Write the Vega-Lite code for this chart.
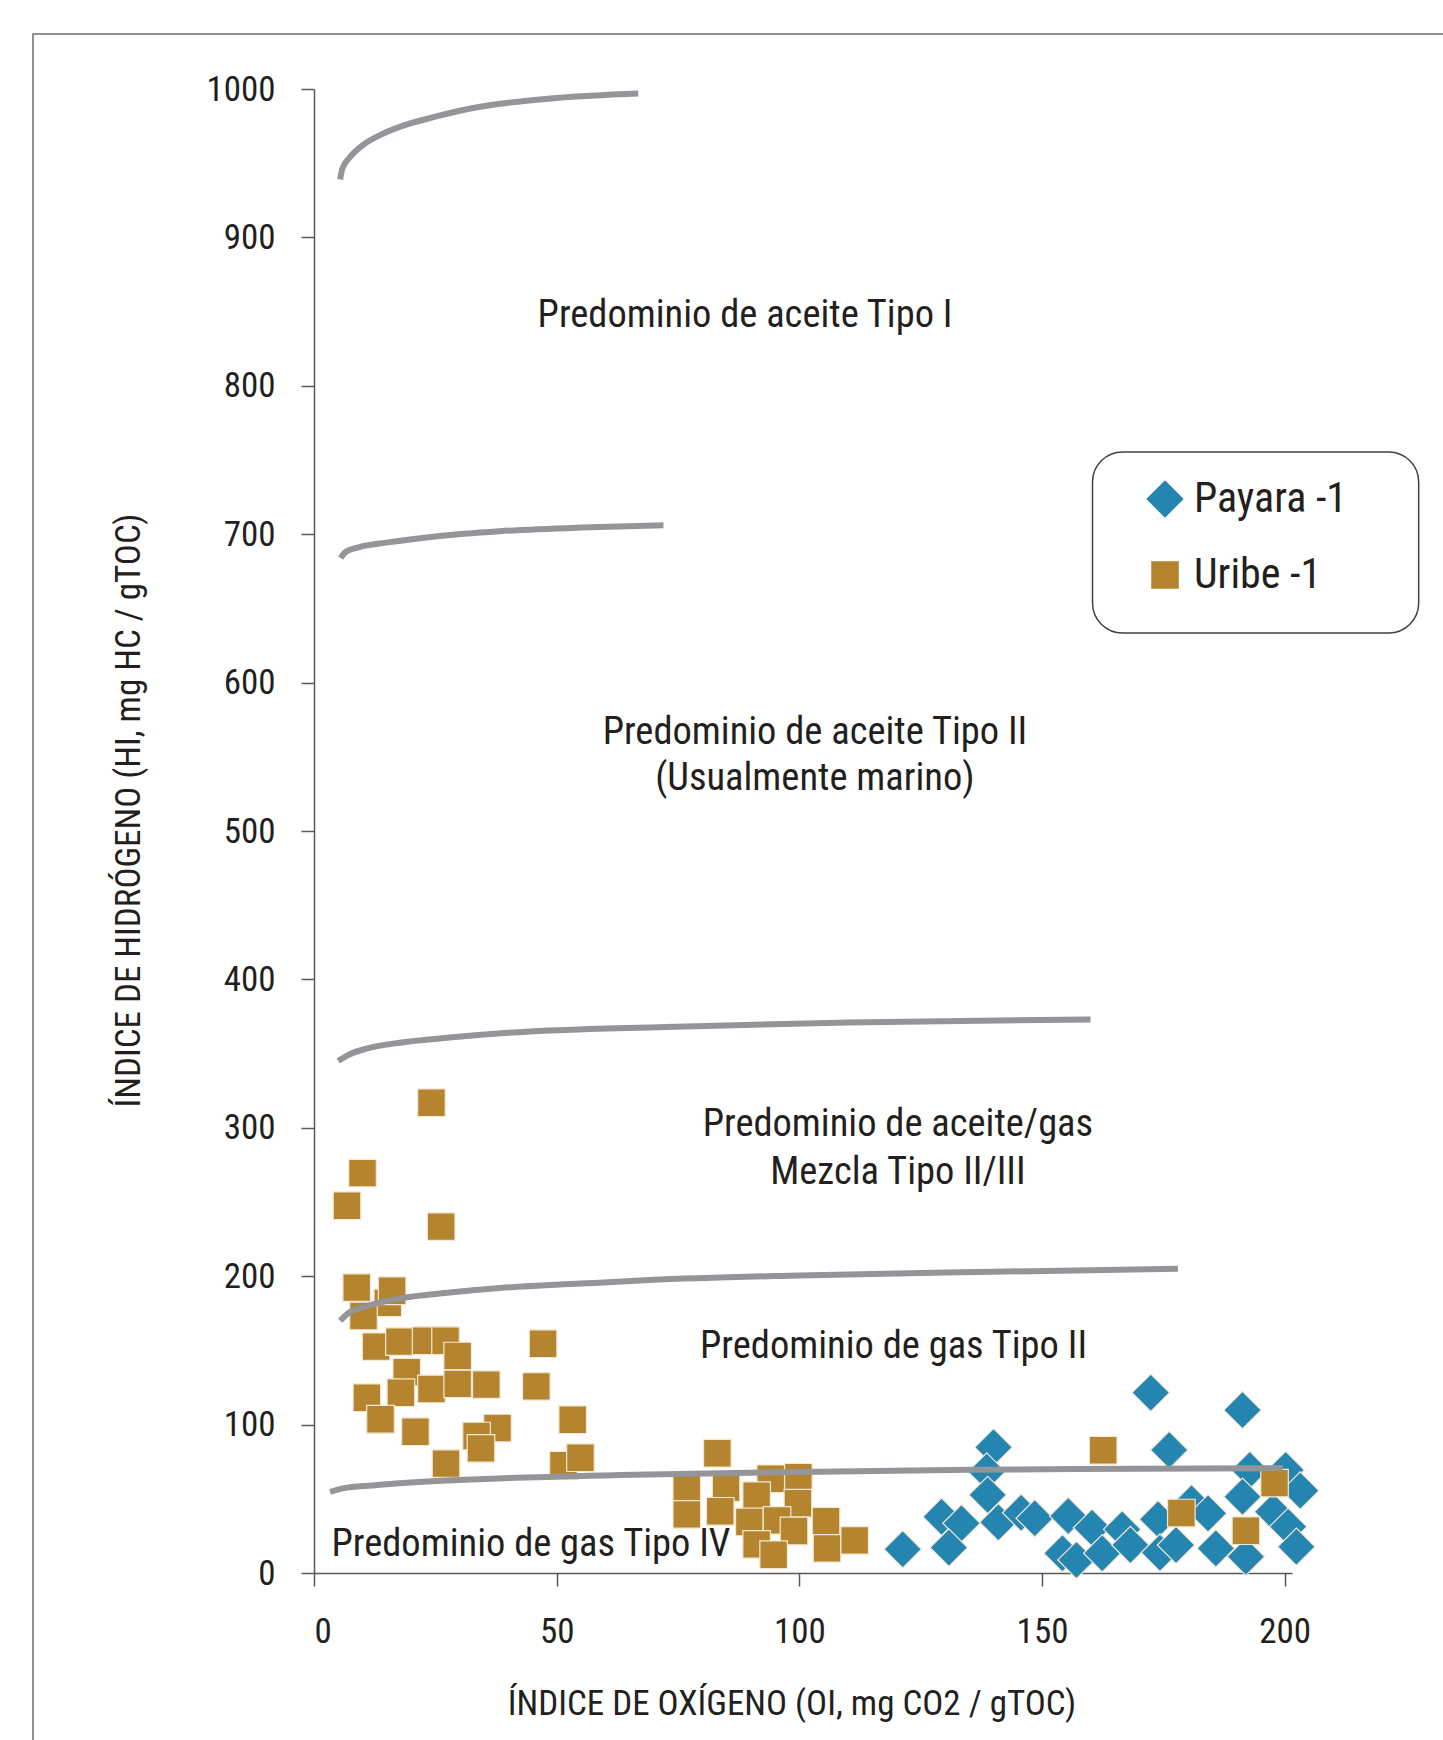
{
  "$schema": "https://vega.github.io/schema/vega-lite/v6.json",
  "autosize": "none",
  "width": 978,
  "height": 1484,
  "padding": {"left": 314, "top": 89, "right": 151, "bottom": 167},
  "background": "white",
  "config": {
    "view": {"stroke": null},
    "font": "Roboto Condensed, Liberation Sans Narrow, Roboto, sans-serif"
  },
  "datasets": {
    "marco": [{"x": -57.9, "x2": 260, "y": 1037.1, "y2": -200}],
    "caja": [{"x": 160.4, "x2": 227.6, "y": 755.4, "y2": 633.4}],
    "puntos": [
      {"oi": 121.3, "hi": 16, "pozo": "Payara -1"},
      {"oi": 129.3, "hi": 37.9, "pozo": "Payara -1"},
      {"oi": 133.4, "hi": 33.5, "pozo": "Payara -1"},
      {"oi": 130.8, "hi": 17.1, "pozo": "Payara -1"},
      {"oi": 140, "hi": 84.7, "pozo": "Payara -1"},
      {"oi": 138.6, "hi": 68.3, "pozo": "Payara -1"},
      {"oi": 138.8, "hi": 52.6, "pozo": "Payara -1"},
      {"oi": 141, "hi": 34.2, "pozo": "Payara -1"},
      {"oi": 145.7, "hi": 40.6, "pozo": "Payara -1"},
      {"oi": 148.5, "hi": 36.9, "pozo": "Payara -1"},
      {"oi": 155.4, "hi": 38.4, "pozo": "Payara -1"},
      {"oi": 154.2, "hi": 13.3, "pozo": "Payara -1"},
      {"oi": 157.1, "hi": 8.8, "pozo": "Payara -1"},
      {"oi": 160.3, "hi": 30.5, "pozo": "Payara -1"},
      {"oi": 162.4, "hi": 13.3, "pozo": "Payara -1"},
      {"oi": 166.5, "hi": 29.4, "pozo": "Payara -1"},
      {"oi": 168.2, "hi": 18.9, "pozo": "Payara -1"},
      {"oi": 172.4, "hi": 121.5, "pozo": "Payara -1"},
      {"oi": 176.2, "hi": 82.9, "pozo": "Payara -1"},
      {"oi": 173.9, "hi": 36.2, "pozo": "Payara -1"},
      {"oi": 174.3, "hi": 13.7, "pozo": "Payara -1"},
      {"oi": 177.6, "hi": 18.9, "pozo": "Payara -1"},
      {"oi": 180.8, "hi": 47, "pozo": "Payara -1"},
      {"oi": 184.2, "hi": 40.2, "pozo": "Payara -1"},
      {"oi": 185.8, "hi": 16.6, "pozo": "Payara -1"},
      {"oi": 191.3, "hi": 109.8, "pozo": "Payara -1"},
      {"oi": 192.8, "hi": 69.4, "pozo": "Payara -1"},
      {"oi": 191.3, "hi": 51.4, "pozo": "Payara -1"},
      {"oi": 192, "hi": 11, "pozo": "Payara -1"},
      {"oi": 200.2, "hi": 69.4, "pozo": "Payara -1"},
      {"oi": 203.2, "hi": 55.5, "pozo": "Payara -1"},
      {"oi": 197.6, "hi": 41.3, "pozo": "Payara -1"},
      {"oi": 200.7, "hi": 31.2, "pozo": "Payara -1"},
      {"oi": 202.4, "hi": 17.7, "pozo": "Payara -1"},
      {"oi": 24.2, "hi": 316.9, "pozo": "Uribe -1"},
      {"oi": 10, "hi": 269.5, "pozo": "Uribe -1"},
      {"oi": 6.8, "hi": 247.5, "pozo": "Uribe -1"},
      {"oi": 26.2, "hi": 233.4, "pozo": "Uribe -1"},
      {"oi": 8.8, "hi": 192.3, "pozo": "Uribe -1"},
      {"oi": 15.2, "hi": 182, "pozo": "Uribe -1"},
      {"oi": 16.1, "hi": 190.2, "pozo": "Uribe -1"},
      {"oi": 10.2, "hi": 173.2, "pozo": "Uribe -1"},
      {"oi": 12.8, "hi": 152.5, "pozo": "Uribe -1"},
      {"oi": 17.6, "hi": 155.9, "pozo": "Uribe -1"},
      {"oi": 23.1, "hi": 156.5, "pozo": "Uribe -1"},
      {"oi": 27.1, "hi": 156.5, "pozo": "Uribe -1"},
      {"oi": 29.6, "hi": 146.2, "pozo": "Uribe -1"},
      {"oi": 19.1, "hi": 135.4, "pozo": "Uribe -1"},
      {"oi": 17.9, "hi": 121.5, "pozo": "Uribe -1"},
      {"oi": 24.2, "hi": 124, "pozo": "Uribe -1"},
      {"oi": 29.6, "hi": 127.4, "pozo": "Uribe -1"},
      {"oi": 35.5, "hi": 126.9, "pozo": "Uribe -1"},
      {"oi": 47.2, "hi": 154.5, "pozo": "Uribe -1"},
      {"oi": 45.8, "hi": 125.8, "pozo": "Uribe -1"},
      {"oi": 10.9, "hi": 118.1, "pozo": "Uribe -1"},
      {"oi": 13.7, "hi": 103.6, "pozo": "Uribe -1"},
      {"oi": 20.9, "hi": 95.2, "pozo": "Uribe -1"},
      {"oi": 37.8, "hi": 97.7, "pozo": "Uribe -1"},
      {"oi": 33.5, "hi": 92.3, "pozo": "Uribe -1"},
      {"oi": 34.4, "hi": 84, "pozo": "Uribe -1"},
      {"oi": 53.3, "hi": 103.3, "pozo": "Uribe -1"},
      {"oi": 27.2, "hi": 73.7, "pozo": "Uribe -1"},
      {"oi": 51.4, "hi": 72.6, "pozo": "Uribe -1"},
      {"oi": 54.9, "hi": 77.7, "pozo": "Uribe -1"},
      {"oi": 83.1, "hi": 80.7, "pozo": "Uribe -1"},
      {"oi": 76.8, "hi": 56.8, "pozo": "Uribe -1"},
      {"oi": 76.8, "hi": 39.5, "pozo": "Uribe -1"},
      {"oi": 84.9, "hi": 57.5, "pozo": "Uribe -1"},
      {"oi": 83.7, "hi": 41.6, "pozo": "Uribe -1"},
      {"oi": 94.1, "hi": 63.5, "pozo": "Uribe -1"},
      {"oi": 99.8, "hi": 64.5, "pozo": "Uribe -1"},
      {"oi": 91.2, "hi": 52.1, "pozo": "Uribe -1"},
      {"oi": 99.7, "hi": 47, "pozo": "Uribe -1"},
      {"oi": 89.7, "hi": 34.4, "pozo": "Uribe -1"},
      {"oi": 95.4, "hi": 35.5, "pozo": "Uribe -1"},
      {"oi": 98.9, "hi": 28.3, "pozo": "Uribe -1"},
      {"oi": 91.2, "hi": 19.3, "pozo": "Uribe -1"},
      {"oi": 94.7, "hi": 12.3, "pozo": "Uribe -1"},
      {"oi": 105.5, "hi": 35, "pozo": "Uribe -1"},
      {"oi": 105.7, "hi": 16.6, "pozo": "Uribe -1"},
      {"oi": 111.4, "hi": 22, "pozo": "Uribe -1"},
      {"oi": 162.6, "hi": 82.7, "pozo": "Uribe -1"},
      {"oi": 178.7, "hi": 40.4, "pozo": "Uribe -1"},
      {"oi": 192, "hi": 28.5, "pozo": "Uribe -1"},
      {"oi": 197.9, "hi": 60.6, "pozo": "Uribe -1"}
    ],
    "curvas": [
      {"curva": "c1", "oi": 5.4, "hi": 939},
      {"curva": "c1", "oi": 5.8, "hi": 946},
      {"curva": "c1", "oi": 7.4, "hi": 954},
      {"curva": "c1", "oi": 10, "hi": 962},
      {"curva": "c1", "oi": 14.3, "hi": 970},
      {"curva": "c1", "oi": 19, "hi": 976},
      {"curva": "c1", "oi": 24.6, "hi": 981},
      {"curva": "c1", "oi": 31, "hi": 986},
      {"curva": "c1", "oi": 38.3, "hi": 990},
      {"curva": "c1", "oi": 50, "hi": 994},
      {"curva": "c1", "oi": 66.8, "hi": 997},
      {"curva": "c2", "oi": 5.5, "hi": 684},
      {"curva": "c2", "oi": 6.5, "hi": 688},
      {"curva": "c2", "oi": 9, "hi": 691},
      {"curva": "c2", "oi": 15.3, "hi": 694.5},
      {"curva": "c2", "oi": 25, "hi": 698.5},
      {"curva": "c2", "oi": 38.2, "hi": 702},
      {"curva": "c2", "oi": 55, "hi": 704.5},
      {"curva": "c2", "oi": 72, "hi": 706},
      {"curva": "c3", "oi": 5, "hi": 345},
      {"curva": "c3", "oi": 7, "hi": 349},
      {"curva": "c3", "oi": 11, "hi": 353.5},
      {"curva": "c3", "oi": 18, "hi": 357.5},
      {"curva": "c3", "oi": 26.8, "hi": 360.5},
      {"curva": "c3", "oi": 40, "hi": 364},
      {"curva": "c3", "oi": 72.5, "hi": 368},
      {"curva": "c3", "oi": 110, "hi": 371},
      {"curva": "c3", "oi": 160, "hi": 373},
      {"curva": "c4", "oi": 5.4, "hi": 170},
      {"curva": "c4", "oi": 7, "hi": 175},
      {"curva": "c4", "oi": 10, "hi": 179},
      {"curva": "c4", "oi": 17.7, "hi": 185},
      {"curva": "c4", "oi": 28, "hi": 189},
      {"curva": "c4", "oi": 38.3, "hi": 192},
      {"curva": "c4", "oi": 55, "hi": 195},
      {"curva": "c4", "oi": 69, "hi": 197.4},
      {"curva": "c4", "oi": 100, "hi": 200.5},
      {"curva": "c4", "oi": 140, "hi": 203},
      {"curva": "c4", "oi": 178, "hi": 205},
      {"curva": "c5", "oi": 3.3, "hi": 54.6},
      {"curva": "c5", "oi": 6, "hi": 57},
      {"curva": "c5", "oi": 12, "hi": 59},
      {"curva": "c5", "oi": 20, "hi": 61},
      {"curva": "c5", "oi": 40, "hi": 64},
      {"curva": "c5", "oi": 63, "hi": 66},
      {"curva": "c5", "oi": 100, "hi": 68},
      {"curva": "c5", "oi": 135, "hi": 69.5},
      {"curva": "c5", "oi": 170, "hi": 70.3},
      {"curva": "c5", "oi": 199.6, "hi": 70.7}
    ],
    "textos": [
      {"oi": 88.8, "hi": 847.5, "t": "Predominio de aceite Tipo I"},
      {"oi": 103.2, "hi": 567, "t": "Predominio de aceite Tipo II"},
      {"oi": 103.2, "hi": 536, "t": "(Usualmente marino)"},
      {"oi": 120.3, "hi": 302.4, "t": "Predominio de aceite/gas"},
      {"oi": 120.3, "hi": 270, "t": "Mezcla Tipo II/III"},
      {"oi": 119.4, "hi": 152.8, "t": "Predominio de gas Tipo II"},
      {"oi": 44.7, "hi": 19.3, "t": "Predominio de gas Tipo IV"}
    ]
  },
  "encoding": {
    "x": {
      "field": "oi", "type": "quantitative",
      "scale": {"domain": [0, 201.5], "nice": false, "zero": false},
      "axis": {
        "title": "ÍNDICE DE OXÍGENO (OI, mg CO2 / gTOC)",
        "values": [0, 50, 100, 150, 200], "format": "d", "grid": false,
        "domainColor": "#58595b", "domainWidth": 1.5,
        "tickColor": "#58595b", "tickWidth": 1.5, "tickSize": 13,
        "labelFontSize": 35, "labelColor": "#231f20", "labelPadding": 28,
        "labelFont": "Roboto Condensed, Liberation Sans Narrow, Roboto, sans-serif",
        "titleFont": "Roboto Condensed, Liberation Sans Narrow, Roboto, sans-serif",
        "titleFontSize": 35, "titleFontWeight": "normal", "titleColor": "#231f20",
        "titleX": 477.5, "titleY": 130, "titleAlign": "center", "titleBaseline": "middle", "titleAnchor": null
      }
    },
    "y": {
      "field": "hi", "type": "quantitative",
      "scale": {"domain": [0, 1000], "nice": false, "zero": false},
      "axis": {
        "title": "ÍNDICE DE HIDRÓGENO (HI, mg HC / gTOC)",
        "values": [0, 100, 200, 300, 400, 500, 600, 700, 800, 900, 1000], "format": "d", "grid": false,
        "domainColor": "#58595b", "domainWidth": 1.5,
        "tickColor": "#58595b", "tickWidth": 1.5, "tickSize": 13,
        "labelFontSize": 35, "labelColor": "#231f20", "labelPadding": 26,
        "labelFont": "Roboto Condensed, Liberation Sans Narrow, Roboto, sans-serif",
        "titleFont": "Roboto Condensed, Liberation Sans Narrow, Roboto, sans-serif",
        "titleFontSize": 35, "titleFontWeight": "normal", "titleColor": "#231f20",
        "titleX": -186, "titleY": 721, "titleAngle": 270, "titleAlign": "center", "titleBaseline": "middle"
      }
    }
  },
  "layer": [
    {
      "data": {"name": "marco"},
      "mark": {"type": "rect", "fill": null, "stroke": "#6d6e71", "strokeWidth": 1.5, "clip": false},
      "encoding": {
        "x": {"field": "x", "type": "quantitative"},
        "x2": {"field": "x2"},
        "y": {"field": "y", "type": "quantitative"},
        "y2": {"field": "y2"}
      }
    },
    {
      "data": {"name": "caja"},
      "mark": {"type": "rect", "fill": "white", "stroke": "#414042", "strokeWidth": 1.5, "cornerRadius": 30},
      "encoding": {
        "x": {"field": "x", "type": "quantitative"},
        "x2": {"field": "x2"},
        "y": {"field": "y", "type": "quantitative"},
        "y2": {"field": "y2"}
      }
    },
    {
      "data": {"name": "puntos"},
      "mark": {"type": "point", "filled": true, "opacity": 1, "stroke": "#f3e8d4", "strokeWidth": 1.2, "clip": false},
      "encoding": {
        "color": {
          "field": "pozo", "type": "nominal",
          "scale": {"domain": ["Payara -1", "Uribe -1"], "range": ["#2485b0", "#b5842f"]},
          "legend": {
            "title": null, "orient": "none", "legendX": 820, "legendY": 379,
            "padding": 10, "labelFontSize": 42, "labelColor": "#231f20", "labelOffset": 8,
            "labelLimit": 0,
            "labelFont": "Roboto Condensed, Liberation Sans Narrow, Roboto, sans-serif",
            "rowPadding": 34, "symbolStrokeWidth": 0, "symbolOpacity": 1
          }
        },
        "shape": {
          "field": "pozo", "type": "nominal",
          "scale": {"domain": ["Payara -1", "Uribe -1"], "range": ["diamond", "square"]}
        },
        "size": {
          "field": "pozo", "type": "nominal",
          "scale": {"domain": ["Payara -1", "Uribe -1"], "range": [1400, 760]}
        }
      }
    },
    {
      "data": {"name": "curvas"},
      "mark": {"type": "line", "color": "#939598", "strokeWidth": 6, "interpolate": "monotone", "strokeCap": "butt"},
      "encoding": {
        "detail": {"field": "curva", "type": "nominal"}
      }
    },
    {
      "data": {"name": "textos"},
      "mark": {"type": "text", "fontSize": 38.5, "color": "#231f20", "align": "center", "baseline": "middle", "font": "Roboto Condensed, Liberation Sans Narrow, Roboto, sans-serif"},
      "encoding": {
        "text": {"field": "t", "type": "nominal"}
      }
    }
  ]
}
